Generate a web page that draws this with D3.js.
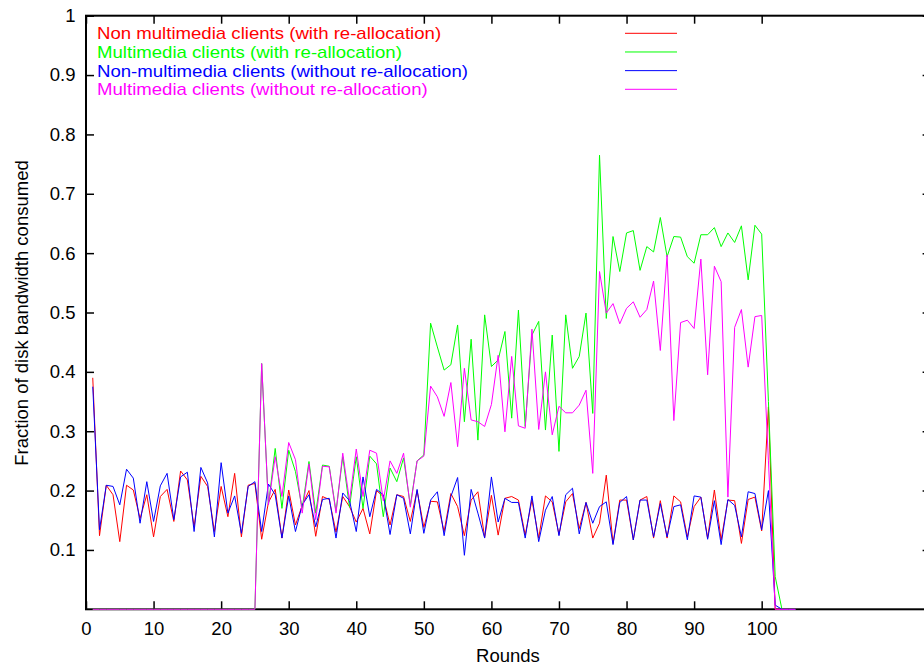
<!DOCTYPE html>
<html>
<head>
<meta charset="utf-8">
<script src="https://cdn.jsdelivr.net/npm/d3@7/dist/d3.min.js"></script>
<style>
  html, body { margin: 0; padding: 0; background: #fff; }
  svg { display: block; }
  text { font-family: "Liberation Sans", Arial, Helvetica, sans-serif; fill: #000; }
</style>
</head>
<body>
<svg id="chart" width="924" height="666"></svg>
<script>
// ---------- data ----------
const rounds = d3.range(1, 106); // 1..105

const nonMMRealloc = [
  0.39, 0.124, 0.209, 0.193, 0.114, 0.209, 0.201, 0.153, 0.193, 0.122,
  0.19, 0.202, 0.148, 0.233, 0.218, 0.139, 0.224, 0.207, 0.131, 0.207,
  0.156, 0.229, 0.122, 0.209, 0.212, 0.118, 0.18, 0.202, 0.12, 0.201,
  0.142, 0.175, 0.2, 0.123, 0.19, 0.185, 0.13, 0.19, 0.173, 0.147,
  0.17, 0.127, 0.2, 0.19, 0.142, 0.193, 0.19, 0.148, 0.2, 0.138,
  0.182, 0.181, 0.131, 0.195, 0.173, 0.124, 0.184, 0.198, 0.121, 0.192,
  0.125, 0.187, 0.19, 0.184, 0.125, 0.184, 0.12, 0.191, 0.181, 0.126,
  0.181, 0.195, 0.136, 0.18, 0.12, 0.145, 0.226, 0.111, 0.184, 0.184,
  0.117, 0.184, 0.19, 0.12, 0.183, 0.12, 0.191, 0.181, 0.122, 0.173,
  0.189, 0.12, 0.201, 0.117, 0.184, 0.183, 0.111, 0.185, 0.189, 0.132,
  0.341, 0, 0, 0, 0
];

const mmRealloc = [
  0, 0, 0, 0, 0, 0, 0, 0, 0, 0,
  0, 0, 0, 0, 0, 0, 0, 0, 0, 0,
  0, 0, 0, 0, 0, 0.414, 0.176, 0.271, 0.17, 0.268,
  0.232, 0.17, 0.249, 0.162, 0.243, 0.241, 0.165, 0.257, 0.172, 0.257,
  0.17, 0.258, 0.245, 0.156, 0.238, 0.215, 0.255, 0.175, 0.25, 0.26,
  0.482, 0.442, 0.403, 0.412, 0.479, 0.316, 0.455, 0.285, 0.496, 0.409,
  0.42, 0.468, 0.322, 0.504, 0.308, 0.462, 0.485, 0.302, 0.462, 0.266,
  0.496, 0.406, 0.426, 0.499, 0.33, 0.765, 0.49, 0.628, 0.569, 0.634,
  0.638, 0.571, 0.611, 0.602, 0.66, 0.594, 0.628, 0.627, 0.594, 0.583,
  0.631, 0.631, 0.643, 0.611, 0.634, 0.618, 0.646, 0.555, 0.647, 0.632,
  0.35, 0.055, 0, 0, 0
];

const nonMMNoRealloc = [
  0.375, 0.134, 0.209, 0.207, 0.176, 0.236, 0.221, 0.145, 0.215, 0.148,
  0.208, 0.229, 0.151, 0.223, 0.231, 0.131, 0.239, 0.213, 0.122, 0.247,
  0.162, 0.191, 0.128, 0.207, 0.215, 0.131, 0.211, 0.193, 0.12, 0.191,
  0.131, 0.176, 0.193, 0.139, 0.185, 0.187, 0.12, 0.196, 0.183, 0.131,
  0.223, 0.156, 0.202, 0.193, 0.126, 0.193, 0.187, 0.127, 0.202, 0.128,
  0.184, 0.198, 0.124, 0.19, 0.222, 0.091, 0.202, 0.162, 0.12, 0.223,
  0.147, 0.187, 0.18, 0.18, 0.12, 0.191, 0.114, 0.167, 0.19, 0.124,
  0.193, 0.204, 0.127, 0.18, 0.145, 0.173, 0.181, 0.109, 0.18, 0.19,
  0.117, 0.184, 0.184, 0.122, 0.178, 0.122, 0.173, 0.176, 0.117, 0.191,
  0.189, 0.118, 0.183, 0.109, 0.185, 0.175, 0.122, 0.198, 0.195, 0.134,
  0.2, 0.007, 0, 0, 0
];

const mmNoRealloc = [
  0, 0, 0, 0, 0, 0, 0, 0, 0, 0,
  0, 0, 0, 0, 0, 0, 0, 0, 0, 0,
  0, 0, 0, 0, 0, 0.414, 0.176, 0.257, 0.19, 0.281,
  0.252, 0.162, 0.245, 0.151, 0.241, 0.24, 0.162, 0.263, 0.183, 0.27,
  0.19, 0.268, 0.263, 0.183, 0.25, 0.229, 0.263, 0.172, 0.25, 0.258,
  0.376, 0.358, 0.325, 0.382, 0.274, 0.406, 0.319, 0.316, 0.308, 0.345,
  0.428, 0.299, 0.426, 0.309, 0.305, 0.472, 0.303, 0.40, 0.294, 0.342,
  0.331, 0.331, 0.344, 0.369, 0.229, 0.569, 0.499, 0.515, 0.481, 0.507,
  0.518, 0.492, 0.505, 0.553, 0.436, 0.597, 0.318, 0.483, 0.487, 0.473,
  0.59, 0.395, 0.578, 0.552, 0.189, 0.475, 0.505, 0.408, 0.493, 0.495,
  0.25, 0, 0, 0, 0
];

const seriesNames = [
  "Non multimedia clients (with re-allocation)",
  "Multimedia clients (with re-allocation)",
  "Non-multimedia clients (without re-allocation)",
  "Multimedia clients (without re-allocation)"
];
const seriesColors = ["#ff0000", "#00ff00", "#0000ff", "#ff00ff"];
const seriesValues = [nonMMRealloc, mmRealloc, nonMMNoRealloc, mmNoRealloc];

const xTicks = [0, 10, 20, 30, 40, 50, 60, 70, 80, 90, 100];
const yTicks = [0.1, 0.2, 0.3, 0.4, 0.5, 0.6, 0.7, 0.8, 0.9, 1];
const xLabel = "Rounds";
const yLabel = "Fraction of disk bandwidth consumed";

// ---------- layout ----------
const L = 86, R = 930.6, T = 15.7, B = 609.3;
const FS = 18.5;
const svg = d3.select("#chart");
const x = d3.scaleLinear().domain([0, 125]).range([L, R]);
const y = d3.scaleLinear().domain([0, 1]).range([B, T]);

// axes (ticks inward, mirrored)
const fmt = d => String(d);
const gB = svg.append("g").attr("transform", `translate(0,${B})`)
  .call(d3.axisBottom(x).tickValues(xTicks).tickSizeInner(-8).tickSizeOuter(0).tickPadding(12.5).tickFormat(fmt));
const gT = svg.append("g").attr("transform", `translate(0,${T})`)
  .call(d3.axisTop(x).tickValues(xTicks).tickSizeInner(-8).tickSizeOuter(0).tickFormat(""));
const gL = svg.append("g").attr("transform", `translate(${L},0)`)
  .call(d3.axisLeft(y).tickValues(yTicks).tickSizeInner(-8).tickSizeOuter(0).tickPadding(10.5).tickFormat(fmt));
const gR = svg.append("g").attr("transform", `translate(${R},0)`)
  .call(d3.axisRight(y).tickValues(yTicks).tickSizeInner(-8).tickSizeOuter(0).tickFormat(""));
[gB, gT, gL, gR].forEach(g => {
  g.select(".domain").remove();
  g.selectAll(".tick line").attr("stroke", "#000").attr("stroke-width", 1.5);
  g.selectAll("text").attr("font-size", FS).attr("fill", "#000")
    .attr("font-family", '"Liberation Sans", Arial, sans-serif');
});

// border
svg.append("rect").attr("x", L).attr("y", T).attr("width", R - L).attr("height", B - T)
  .attr("fill", "none").attr("stroke", "#000").attr("stroke-width", 2);

// axis titles
svg.append("text").attr("x", 508).attr("y", 662).attr("text-anchor", "middle")
  .attr("font-size", FS).text(xLabel);
svg.append("text").attr("transform", "translate(27.5,313) rotate(-90)")
  .attr("text-anchor", "middle").attr("font-size", FS).text(yLabel);

// lines
const line = d3.line().x((d, i) => x(rounds[i])).y(d => y(d));
seriesValues.forEach((vals, k) => {
  svg.append("path").datum(vals).attr("d", line)
    .attr("fill", "none").attr("stroke", seriesColors[k]).attr("stroke-width", 1)
    .attr("stroke-linejoin", "miter");
});

// legend (slightly wide glyphs, as in the reference)
const legY0 = 33.3, legDy = 18.67;
seriesNames.forEach((name, k) => {
  const yy = legY0 + k * legDy;
  const t = svg.append("text").attr("x", 97).attr("y", yy + 6).attr("font-size", 18.6)
    .attr("fill", seriesColors[k]).style("fill", seriesColors[k]).text(name);
  const w = t.node().getComputedTextLength();
  t.attr("font-size", 16.4).attr("textLength", w).attr("lengthAdjust", "spacingAndGlyphs");
  svg.append("line").attr("x1", 625).attr("x2", 677).attr("y1", yy).attr("y2", yy)
    .attr("stroke", seriesColors[k]).attr("stroke-width", 1);
});
</script>
</body>
</html>
